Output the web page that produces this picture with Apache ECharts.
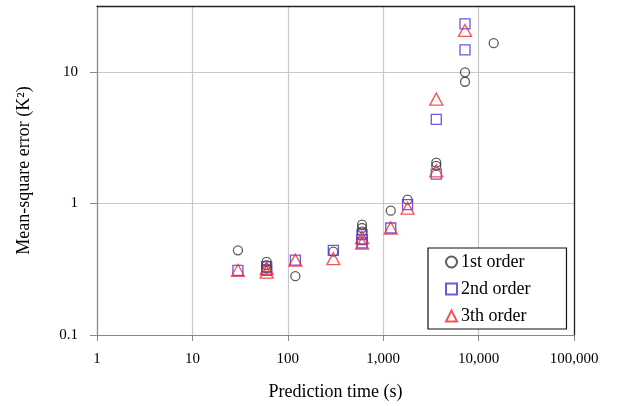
<!DOCTYPE html>
<html><head><meta charset="utf-8">
<script src="https://cdn.jsdelivr.net/npm/echarts@6/dist/echarts.min.js"></script>
<style>html,body{margin:0;padding:0;background:#fff}#c{width:619px;height:406px}</style>
</head><body><div id="c"></div>
<script>
var seriesNames = ['1st order', '2nd order', '3th order'];
var x1 = [30, 60, 60, 60, 120, 300, 600, 600, 600, 1200, 1800, 3600, 3600, 7200, 7200, 14400];
var y1 = [0.44, 0.36, 0.34, 0.32, 0.28, 0.43, 0.69, 0.65, 0.61, 0.88, 1.07, 2.04, 1.93, 9.9, 8.4, 16.5];
var x2 = [30, 60, 60, 120, 300, 600, 600, 600, 1200, 1800, 3600, 3600, 7200, 7200];
var y2 = [0.31, 0.33, 0.31, 0.37, 0.44, 0.58, 0.53, 0.50, 0.65, 0.98, 4.35, 1.67, 23.1, 14.7];
var x3 = [30, 60, 60, 120, 300, 600, 600, 1200, 1800, 3600, 3600, 7200];
var y3 = [0.31, 0.32, 0.30, 0.37, 0.38, 0.55, 0.50, 0.65, 0.92, 6.2, 1.77, 20.6];
var xTickLabels = ['1', '10', '100', '1,000', '10,000', '100,000'];
var yTickLabels = ['0.1', '1', '10'];

function pairs(xs, ys) { return xs.map(function (v, i) { return [v, ys[i]]; }); }
var font = '"Liberation Serif", "DejaVu Serif", serif';
var chart = echarts.init(document.getElementById('c'));
function isPow10(v) { var l = Math.log10(v); return Math.abs(l - Math.round(l)) < 1e-6; }
var frameAxis = {
  axisLine: { show: true, lineStyle: { color: '#222', width: 1.3 } },
  axisTick: { show: false }, axisLabel: { show: false }, splitLine: { show: false }
};
chart.setOption({
  animation: false,
  grid: { left: 97, top: 6, right: 45, bottom: 69 },
  xAxis: [{
    type: 'log', logBase: 10, min: 1, max: 100000,
    name: 'Prediction time (s)', nameLocation: 'middle', nameGap: 48,
    nameTextStyle: { fontFamily: font, fontSize: 18, color: '#000' },
    axisLine: { lineStyle: { color: '#888', width: 1.2 } },
    axisTick: { show: true, inside: false, length: 6, lineStyle: { color: '#888' } },
    splitLine: { show: true, lineStyle: { color: '#c8c8c8', width: 1.2 } },
    axisLabel: {
      fontFamily: font, fontSize: 15, color: '#000', margin: 17,
      formatter: function (v) { var i = Math.round(Math.log10(v)); return isPow10(v) ? xTickLabels[i] : ''; }
    }
  }, Object.assign({ type: 'log', logBase: 10, min: 1, max: 100000, position: 'top' }, frameAxis)],
  yAxis: [{
    type: 'log', logBase: 10, min: 0.1, max: 31.62,
    name: 'Mean-square error (K²)', nameLocation: 'middle', nameGap: 64, nameRotate: 90,
    nameTextStyle: { fontFamily: font, fontSize: 18, color: '#000' },
    axisLine: { show: true, lineStyle: { color: '#888', width: 1.2 } },
    axisTick: { show: true, inside: false, length: 7, lineStyle: { color: '#888' } },
    splitLine: { show: true, lineStyle: { color: '#c8c8c8', width: 1.2 } },
    axisLabel: {
      fontFamily: font, fontSize: 15, color: '#000', margin: 19, showMaxLabel: false,
      formatter: function (v) { if (!isPow10(v)) return ''; var i = Math.round(Math.log10(v)) + 1; return yTickLabels[i] || ''; }
    }
  }, Object.assign({ type: 'log', logBase: 10, min: 0.1, max: 31.62, position: 'right' }, frameAxis)],
  legend: {
    orient: 'vertical', left: 428, top: 248,
    backgroundColor: '#fff', borderColor: '#111', borderWidth: 1.2,
    padding: [5, 36, 4, 17], itemGap: 9, itemWidth: 11, itemHeight: 11,
    textStyle: { fontFamily: font, fontSize: 18, color: '#000', padding: [0, 0, 0, -1] },
    data: seriesNames
  },
  series: [
    { name: seriesNames[0], type: 'scatter', symbol: 'circle', symbolSize: 9,
      itemStyle: { color: 'rgba(0,0,0,0)', borderColor: '#333', borderWidth: 1.3 }, data: pairs(x1, y1) },
    { name: seriesNames[1], type: 'scatter', symbol: 'rect', symbolSize: 10,
      itemStyle: { color: 'rgba(0,0,0,0)', borderColor: '#5028dc', borderWidth: 1.3 }, data: pairs(x2, y2) },
    { name: seriesNames[2], type: 'scatter', symbol: 'triangle', symbolSize: [13, 12],
      itemStyle: { color: 'rgba(0,0,0,0)', borderColor: '#ee2a30', borderWidth: 1.3 }, data: pairs(x3, y3) }
  ]
});
</script></body></html>
